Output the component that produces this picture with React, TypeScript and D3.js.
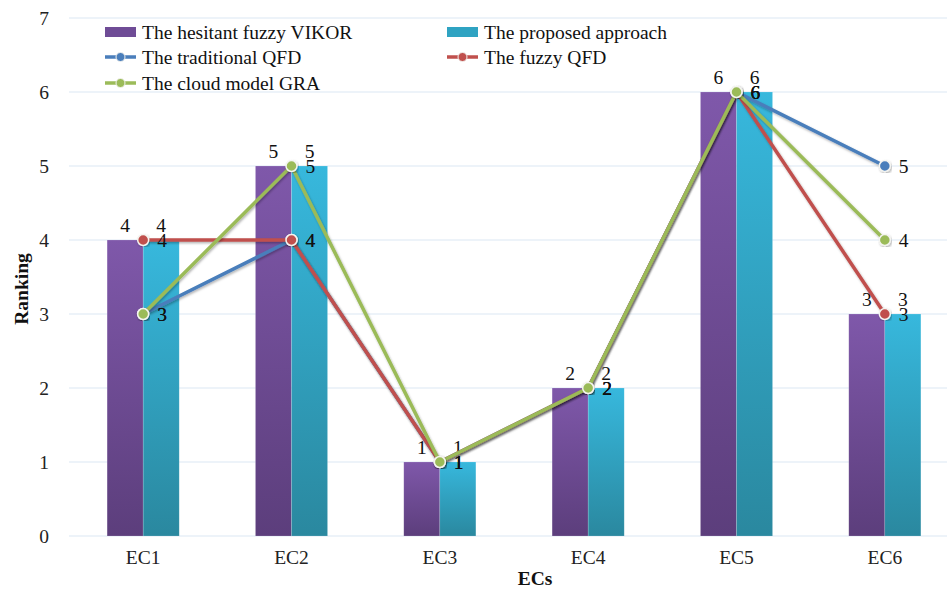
import React from "react";
import * as d3 from "d3";

const categories = ["EC1", "EC2", "EC3", "EC4", "EC5", "EC6"];
const hesitantVikor = [4, 5, 1, 2, 6, 3];
const proposedApproach = [4, 5, 1, 2, 6, 3];
const traditionalQFD = [3, 4, 1, 2, 6, 5];
const fuzzyQFD = [4, 4, 1, 2, 6, 3];
const cloudGRA = [3, 5, 1, 2, 6, 4];
const yTicks = [0, 1, 2, 3, 4, 5, 6, 7];

const barSeries = [
  { name: "The hesitant fuzzy VIKOR", values: hesitantVikor, grad: "gPurple", top: "#7f58aa", bottom: "#5c3e7c", legend: "#6f4c96" },
  { name: "The proposed approach", values: proposedApproach, grad: "gCyan", top: "#37b8dd", bottom: "#2a889f", legend: "#2fa3c2" },
];
const lineSeries = [
  { name: "The traditional QFD", values: traditionalQFD, color: "#4a7ebb" },
  { name: "The fuzzy QFD", values: fuzzyQFD, color: "#c0504d" },
  { name: "The cloud model GRA", values: cloudGRA, color: "#9bbb59" },
];

const W = 947;
const H = 590;
const FONT = "'Liberation Serif', 'Times New Roman', serif";
const FS = 19.5;

export default function App() {
  const x0 = d3
    .scaleBand<string>()
    .domain(categories)
    .range([69, 959])
    .paddingInner(0.514)
    .paddingOuter(0.257);
  const x1 = d3
    .scaleBand<string>()
    .domain(barSeries.map((s) => s.name))
    .range([0, x0.bandwidth()]);
  const y = d3.scaleLinear().domain([0, 7]).range([536, 18]);
  const cx = (c: string) => (x0(c) as number) + x0.bandwidth() / 2;
  const line = d3
    .line<number>()
    .x((_, i) => cx(categories[i]))
    .y((v) => y(v));

  const legendItems = [
    { type: "bar", s: barSeries[0], x: 105, y: 32 },
    { type: "bar", s: barSeries[1], x: 447, y: 32 },
    { type: "line", s: lineSeries[0], x: 105, y: 57 },
    { type: "line", s: lineSeries[1], x: 447, y: 57 },
    { type: "line", s: lineSeries[2], x: 105, y: 83 },
  ];

  return (
    <svg width={W} height={H} style={{ position: "absolute", left: 0, top: 0, background: "#fff" }} fontFamily={FONT}>
      <defs>
        {barSeries.map((s) => (
          <linearGradient key={s.grad} id={s.grad} x1="0" y1="0" x2="0" y2="1">
            <stop offset="0" stopColor={s.top} />
            <stop offset="1" stopColor={s.bottom} />
          </linearGradient>
        ))}
        <filter id="shadow" x="-10%" y="-10%" width="120%" height="120%">
          <feDropShadow dx="1" dy="1.5" stdDeviation="1.2" floodColor="#000" floodOpacity="0.3" />
        </filter>
      </defs>
      <rect x={0} y={0} width={W} height={H} fill="#fff" />
      {yTicks.map((t) => (
        <line key={t} x1={69} x2={W} y1={y(t)} y2={y(t)} stroke="#dce7f4" strokeWidth={1.2} />
      ))}
      {yTicks.map((t) => (
        <text key={t} x={49} y={y(t)} dy="0.35em" textAnchor="end" fontSize={FS} fill="#222">
          {t}
        </text>
      ))}
      <text transform={`translate(28,${(y(0) + y(7)) / 2 + 12}) rotate(-90)`} textAnchor="middle" fontSize={FS} fontWeight="bold" fill="#111">
        Ranking
      </text>
      {categories.map((c) => (
        <text key={c} x={cx(c)} y={564} textAnchor="middle" fontSize={FS} fill="#222">
          {c}
        </text>
      ))}
      <text x={535} y={585} textAnchor="middle" fontSize={FS} fontWeight="bold" fill="#111">
        ECs
      </text>
      {barSeries.map((s) =>
        categories.map((c, i) => (
          <rect
            key={s.name + c}
            x={(x0(c) as number) + (x1(s.name) as number)}
            y={y(s.values[i])}
            width={x1.bandwidth()}
            height={y(0) - y(s.values[i])}
            fill={`url(#${s.grad})`}
            stroke="rgba(255,255,255,0.25)"
            strokeWidth={0.6}
          />
        ))
      )}
      {barSeries.map((s) =>
        categories.map((c, i) => (
          <text
            key={"bl" + s.name + c}
            x={(x0(c) as number) + (x1(s.name) as number) + x1.bandwidth() / 2}
            y={y(s.values[i]) - 8}
            textAnchor="middle"
            fontSize={FS}
            fill="#111"
          >
            {s.values[i]}
          </text>
        ))
      )}
      {lineSeries.map((s) => (
        <g key={s.name}>
          <path d={line(s.values) || ""} fill="none" stroke={s.color} strokeWidth={3.5} strokeLinejoin="round" filter="url(#shadow)" />
          {s.values.map((v, i) => (
            <circle key={i} cx={cx(categories[i])} cy={y(v)} r={5.5} fill={s.color} stroke="#f4f4f0" strokeWidth={1.5} filter="url(#shadow)" />
          ))}
        </g>
      ))}
      {lineSeries.map((s) =>
        s.values.map((v, i) => (
          <text key={"ll" + s.name + i} x={cx(categories[i]) + 14} y={y(v)} dy="0.35em" textAnchor="start" fontSize={FS} fill="#111">
            {v}
          </text>
        ))
      )}
      {legendItems.map((it, k) => (
        <g key={k} transform={`translate(${it.x},${it.y})`}>
          {it.type === "bar" ? (
            <rect x={0} y={-5} width={31} height={10} fill={(it.s as any).legend} />
          ) : (
            <g>
              <line x1={0} x2={31} y1={0} y2={0} stroke={(it.s as any).color} strokeWidth={3.5} />
              <circle cx={15.5} cy={0} r={4.5} fill={(it.s as any).color} stroke="#f4f4f0" strokeWidth={1} />
            </g>
          )}
          <text x={37} y={0} dy="0.35em" fontSize={FS} fill="#111">
            {it.s.name}
          </text>
        </g>
      ))}
    </svg>
  );
}
